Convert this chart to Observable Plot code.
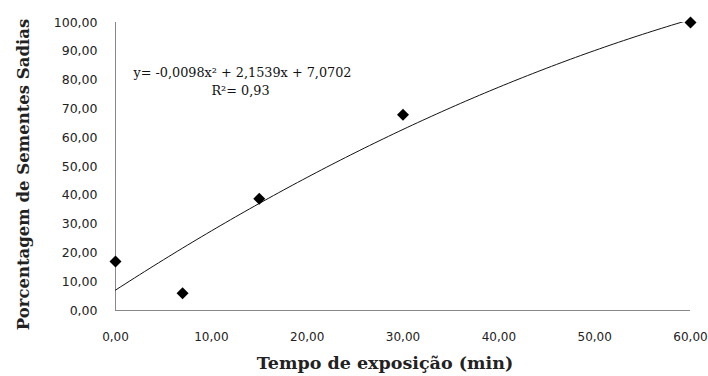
<!DOCTYPE html>
<html><head><meta charset="utf-8">
<script src="https://cdn.jsdelivr.net/npm/d3@7"></script>
<script src="https://cdn.jsdelivr.net/npm/@observablehq/plot@0.6"></script>
<style>body{margin:0;background:#fff}</style>
</head><body><div id="chart"></div>
<script>
const tempo = [0, 7, 15, 30, 60];
const sadias = [17.0, 6.0, 38.8, 68.0, 100.0];
const coef = [-0.0098, 2.1539, 7.0702]; // fitted trend line shown on chart
const xTicks = [0, 10, 20, 30, 40, 50, 60];
const yTicks = [0, 10, 20, 30, 40, 50, 60, 70, 80, 90, 100];
const eqText = "y= -0,0098x² + 2,1539x + 7,0702";
const r2Text = "R²= 0,93";
const xTitle = "Tempo de exposição (min)";
const yTitle = "Porcentagem de Sementes Sadias";

const pts = tempo.map((t, i) => ({t, v: sadias[i]}));
const trend = d3.range(0, 60.01, 0.5).map(t => ({t, v: coef[0]*t*t + coef[1]*t + coef[2]}));
const fmt = d => d.toFixed(2).replace(".", ",");

const chart = Plot.plot({
  width: 708, height: 376,
  marginLeft: 115, marginRight: 18, marginTop: 22, marginBottom: 66,
  x: {domain: [0, 60]},
  y: {domain: [0, 100]},
  marks: [
    Plot.axisY({ticks: yTicks, tickFormat: fmt, tickSize: 0, tickPadding: 18, label: null,
      fontFamily: "DejaVu Sans", fontSize: 12.5, fill: "#222"}),
    Plot.axisX({ticks: xTicks, tickFormat: fmt, tickSize: 0, tickPadding: 22, label: null,
      fontFamily: "DejaVu Sans", fontSize: 12, fill: "#222"}),
    Plot.ruleX([0], {stroke: "#888", strokeWidth: 1}),
    Plot.ruleY([0], {stroke: "#888", strokeWidth: 1}),
    Plot.line(trend, {x: "t", y: "v", stroke: "#111", strokeWidth: 1, clip: true}),
    Plot.dot(pts, {x: "t", y: "v", symbol: "diamond2", r: 5.4, fill: "#000", stroke: "none"}),
    Plot.text([eqText], {frameAnchor: "top-left", dx: 18, dy: 45, textAnchor: "start",
      fontFamily: "DejaVu Serif", fontSize: 12.8, fill: "#111"}),
    Plot.text([r2Text], {frameAnchor: "top-left", dx: 125, dy: 63, textAnchor: "middle",
      fontFamily: "DejaVu Serif", fontSize: 12.8, fill: "#111"}),
    Plot.text([xTitle], {frameAnchor: "bottom", dx: -18, dy: 58, fontFamily: "DejaVu Serif",
      fontWeight: "bold", fontSize: 17.5, fill: "#222"}),
    Plot.text([yTitle], {frameAnchor: "left", dx: -92, dy: 8, rotate: -90, textAnchor: "middle",
      fontFamily: "DejaVu Serif", fontWeight: "bold", fontSize: 16.5, fill: "#222"})
  ]
});
document.getElementById("chart").append(chart);
</script></body></html>
